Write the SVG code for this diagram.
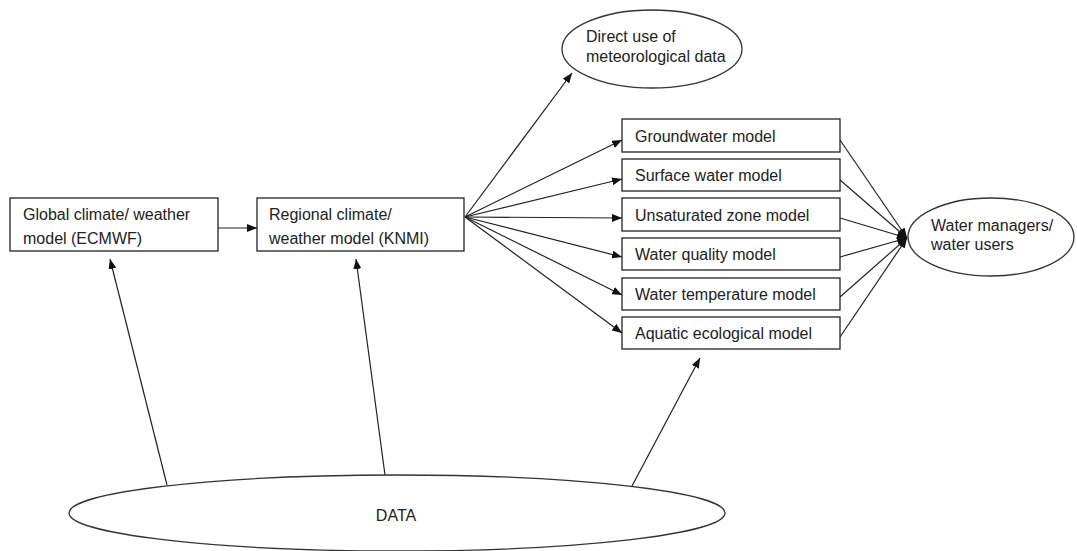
<svg xmlns="http://www.w3.org/2000/svg" width="1077" height="551" viewBox="0 0 1077 551">
<style>
.box{fill:#fff;stroke:#222;stroke-width:1.3}
.ell{fill:#fff;stroke:#333;stroke-width:1.3}
.t{font-family:"Liberation Sans",Arial,sans-serif;font-size:16px;fill:#222}
.c{stroke:#222;stroke-width:1.2;fill:none;marker-end:url(#ah)}
</style>
<defs>
<marker id="ah" viewBox="0 0 10 8" refX="10" refY="4" markerWidth="10" markerHeight="8" markerUnits="userSpaceOnUse" orient="auto">
<path d="M0,0 L10,4 L0,8 Z" fill="#111"/>
</marker>
</defs>
<rect width="1077" height="551" fill="#fff"/>
<g id="connectors">
<line class="c" x1="218" y1="228" x2="257" y2="228"/>
<line class="c" x1="465" y1="217" x2="572" y2="73"/>
<line class="c" x1="465" y1="217" x2="622" y2="140"/>
<line class="c" x1="465" y1="217" x2="622" y2="179"/>
<line class="c" x1="465" y1="217" x2="622" y2="218"/>
<line class="c" x1="465" y1="217" x2="622" y2="257"/>
<line class="c" x1="465" y1="217" x2="622" y2="295"/>
<line class="c" x1="465" y1="217" x2="622" y2="333"/>
<line class="c" x1="840" y1="140" x2="907" y2="238"/>
<line class="c" x1="840" y1="180" x2="907" y2="238"/>
<line class="c" x1="840" y1="218" x2="907" y2="238"/>
<line class="c" x1="840" y1="257" x2="907" y2="238"/>
<line class="c" x1="840" y1="297" x2="907" y2="238"/>
<line class="c" x1="840" y1="337" x2="907" y2="238"/>
<line class="c" x1="167" y1="485" x2="110" y2="259"/>
<line class="c" x1="385" y1="475" x2="356" y2="259"/>
<line class="c" x1="632" y1="486" x2="700" y2="358"/>
</g>
<g id="global">
<rect class="box" x="10" y="198" width="208" height="53"/>
<text class="t" x="23" y="220">Global climate/ weather</text>
<text class="t" x="23" y="244">model (ECMWF)</text>
</g>
<g id="regional">
<rect class="box" x="257" y="198" width="207" height="53"/>
<text class="t" x="269" y="220">Regional climate/</text>
<text class="t" x="269" y="244">weather model (KNMI)</text>
</g>
<g id="direct">
<ellipse class="ell" cx="652" cy="49" rx="90" ry="39"/>
<text class="t" x="586" y="42">Direct use of</text>
<text class="t" x="586" y="62">meteorological data</text>
</g>
<g id="groundwater">
<rect class="box" x="622" y="119" width="218" height="33"/>
<text class="t" x="635" y="142">Groundwater model</text>
</g>
<g id="surface">
<rect class="box" x="622" y="159" width="218" height="32"/>
<text class="t" x="635" y="181">Surface water model</text>
</g>
<g id="unsaturated">
<rect class="box" x="622" y="198" width="218" height="33"/>
<text class="t" x="635" y="221">Unsaturated zone model</text>
</g>
<g id="quality">
<rect class="box" x="622" y="238" width="218" height="32"/>
<text class="t" x="635" y="260">Water quality model</text>
</g>
<g id="temperature">
<rect class="box" x="622" y="278" width="218" height="32"/>
<text class="t" x="635" y="300">Water temperature model</text>
</g>
<g id="aquatic">
<rect class="box" x="622" y="317" width="218" height="32"/>
<text class="t" x="635" y="339">Aquatic ecological model</text>
</g>
<g id="managers">
<ellipse class="ell" cx="991" cy="237" rx="83" ry="39"/>
<text class="t" x="931" y="231">Water managers/</text>
<text class="t" x="931" y="250">water users</text>
</g>
<g id="data">
<ellipse class="ell" cx="397" cy="513" rx="328" ry="38"/>
<text class="t" x="396" y="521" text-anchor="middle">DATA</text>
</g>
</svg>
